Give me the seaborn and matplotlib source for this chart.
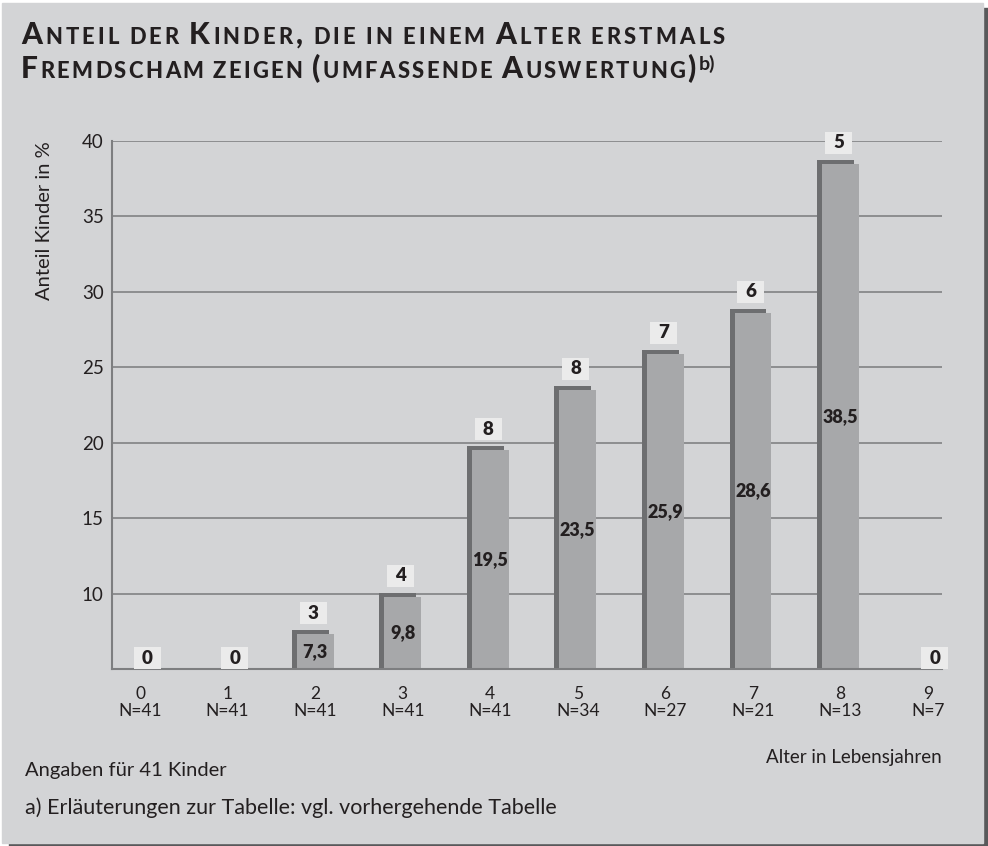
import matplotlib
matplotlib.use("Agg")
import matplotlib.pyplot as plt
import matplotlib.patheffects as pe
from matplotlib.patches import Rectangle
import seaborn as sns
import pandas as pd

# ---- data ----
ages = ["0", "1", "2", "3", "4", "5", "6", "7", "8", "9"]
n_children = [41, 41, 41, 41, 41, 34, 27, 21, 13, 7]
share_pct = [0, 0, 7.3, 9.8, 19.5, 23.5, 25.9, 28.6, 38.5, 0]
counts = [0, 0, 3, 4, 8, 8, 7, 6, 5, 0]
y_ticks = [10, 15, 20, 25, 30, 35, 40]

title_l1 = "Anteil der Kinder, die in einem Alter erstmals"
title_l2 = "Fremdscham zeigen (umfassende Auswertung)"
title_sup = "b)"
y_label = "Anteil Kinder in %"
x_label = "Alter in Lebensjahren"
note1 = "Angaben für 41 Kinder"
note2 = "a) Erläuterungen zur Tabelle: vgl. vorhergehende Tabelle"

# ---- style ----
sns.set_style("white")
FONT = "Lato"
plt.rcParams["font.family"] = [FONT, "DejaVu Sans"]
TXT = "#231f20"
BG = "#d3d4d6"
BAR = "#a7a8aa"
BAR_DARK = "#6d6e70"
GRID = "#7a7b7d"

W, H = 988, 846
fig = plt.figure(figsize=(W / 100, H / 100), dpi=100, facecolor="white")


def fx(x):
    return x / W


def fy(y):
    return 1 - y / H


# panel with shadow
fig.patches.append(Rectangle((fx(9), 0), (W - 9) / W, (H - 8) / H,
                             transform=fig.transFigure, color="#58595b", zorder=-10))
fig.patches.append(Rectangle((fx(2), fy(843)), 981 / W, 840 / H,
                             transform=fig.transFigure, color=BG, zorder=-9))

ax = fig.add_axes([fx(112), fy(669), 830 / W, 528 / H])
ax.patch.set_alpha(0)

df = pd.DataFrame({"age": ages, "share": share_pct})
sns.barplot(data=df, x="age", y="share", order=ages, color=BAR, saturation=1,
            width=0.42, ax=ax, zorder=3)

shadow = [pe.SimplePatchShadow(offset=(-3.6, 2.9), shadow_rgbFace=BAR_DARK, alpha=1.0, rho=1),
          pe.Normal()]
for p in ax.patches:
    p.set_path_effects(shadow)
    p.set_edgecolor("none")

ymin, ymax = 5.0, 40.0
ax.set_ylim(ymin, ymax)
ax.set_xlim(-0.32, 9.16)
ax.set_yticks(y_ticks)
ax.set_yticklabels([str(t) for t in y_ticks], fontsize=13.5, color=TXT)
ax.set_xticks(range(len(ages)))
ax.set_xticklabels([f"{a}\nN={n}" for a, n in zip(ages, n_children)],
                   fontsize=12.5, color=TXT, linespacing=1.1)
ax.tick_params(axis="both", length=0)
ax.tick_params(axis="y", pad=6)
ax.tick_params(axis="x", pad=12)
ax.set_xlabel("")
ax.set_ylabel("")
ax.yaxis.grid(True, color=GRID, linewidth=1.1)
ax.set_axisbelow(True)
for s in ["top", "right"]:
    ax.spines[s].set_visible(False)
for s in ["left", "bottom"]:
    ax.spines[s].set_color("#7d7e80")
    ax.spines[s].set_linewidth(1.5)
    ax.spines[s].set_zorder(5)

# pixel -> data unit conversions (axes is fixed size)
px_per_x = 830 / (9.16 + 0.32)
px_per_y = 528 / (ymax - ymin)

for i, (v, c) in enumerate(zip(share_pct, counts)):
    top = max(v, ymin)
    if v > 0:
        ax.text(i, (ymin + v) / 2, f"{v:.1f}".replace(".", ","), ha="center", va="center",
                fontsize=13, fontweight="heavy", color=TXT, zorder=6)
        bottom = top + 10 / px_per_y
        cx = i - 2 / px_per_x
    else:
        bottom = ymin
        cx = i + 0.08
    bw, bh = 27 / px_per_x, 22 / px_per_y
    ax.add_patch(Rectangle((cx - bw / 2, bottom), bw, bh, facecolor="#ebebeb",
                           edgecolor="none", zorder=6, clip_on=False))
    ax.text(cx, bottom + bh / 2, str(c), ha="center", va="center", fontsize=13.5,
            fontweight="heavy", color=TXT, zorder=7, clip_on=False)

# y label and notes
fig.text(fx(45), fy(221), y_label, rotation=90, ha="center", va="center",
         fontsize=14.5, color=TXT)
fig.text(fx(942), fy(757), x_label, ha="right", va="center", fontsize=13.5, color=TXT)
fig.text(fx(25), fy(770), note1, ha="left", va="center", fontsize=14.5, color=TXT)
fig.text(fx(25), fy(808), note2, ha="left", va="center", fontsize=15.5, color=TXT)

# small-caps title
renderer = fig.canvas.get_renderer()
BIG, SMALL = 21.5, 15.8
TW = 900


def width_px(s, size):
    t = fig.text(0, 0, s, fontsize=size, fontweight=TW)
    w = t.get_window_extent(renderer).width
    t.remove()
    return w


space_w = width_px("x x", BIG) - width_px("xx", BIG)


def glyphs(text):
    out = []
    for ch in text:
        if ch == " ":
            out.append((" ", None))
        else:
            out.append((ch.upper(), SMALL if ch.islower() else BIG))
    return out


def line_width(text, tracking=0.0):
    w = 0.0
    for ch, size in glyphs(text):
        if size is None:
            w += space_w
        else:
            w += width_px(ch, size) + tracking
    return w


def small_caps(text, x0, y0, tracking):
    x = x0
    for ch, size in glyphs(text):
        if size is None:
            x += space_w
            continue
        t = fig.text(fx(x), fy(y0), ch, fontsize=size, fontweight=TW,
                     color=TXT, ha="left", va="baseline")
        x += t.get_window_extent(renderer).width + tracking
    return x


n_glyphs = sum(1 for ch in title_l1 if ch != " ")
track = (707 - line_width(title_l1)) / n_glyphs
small_caps(title_l1, 21, 44, track)
xe = small_caps(title_l2, 21, 78, track * 0.75)
fig.text(fx(xe + 1), fy(70), title_sup, fontsize=14, fontweight="bold", color=TXT,
         ha="left", va="baseline")

fig.savefig("out.png", dpi=100, facecolor=fig.get_facecolor())
